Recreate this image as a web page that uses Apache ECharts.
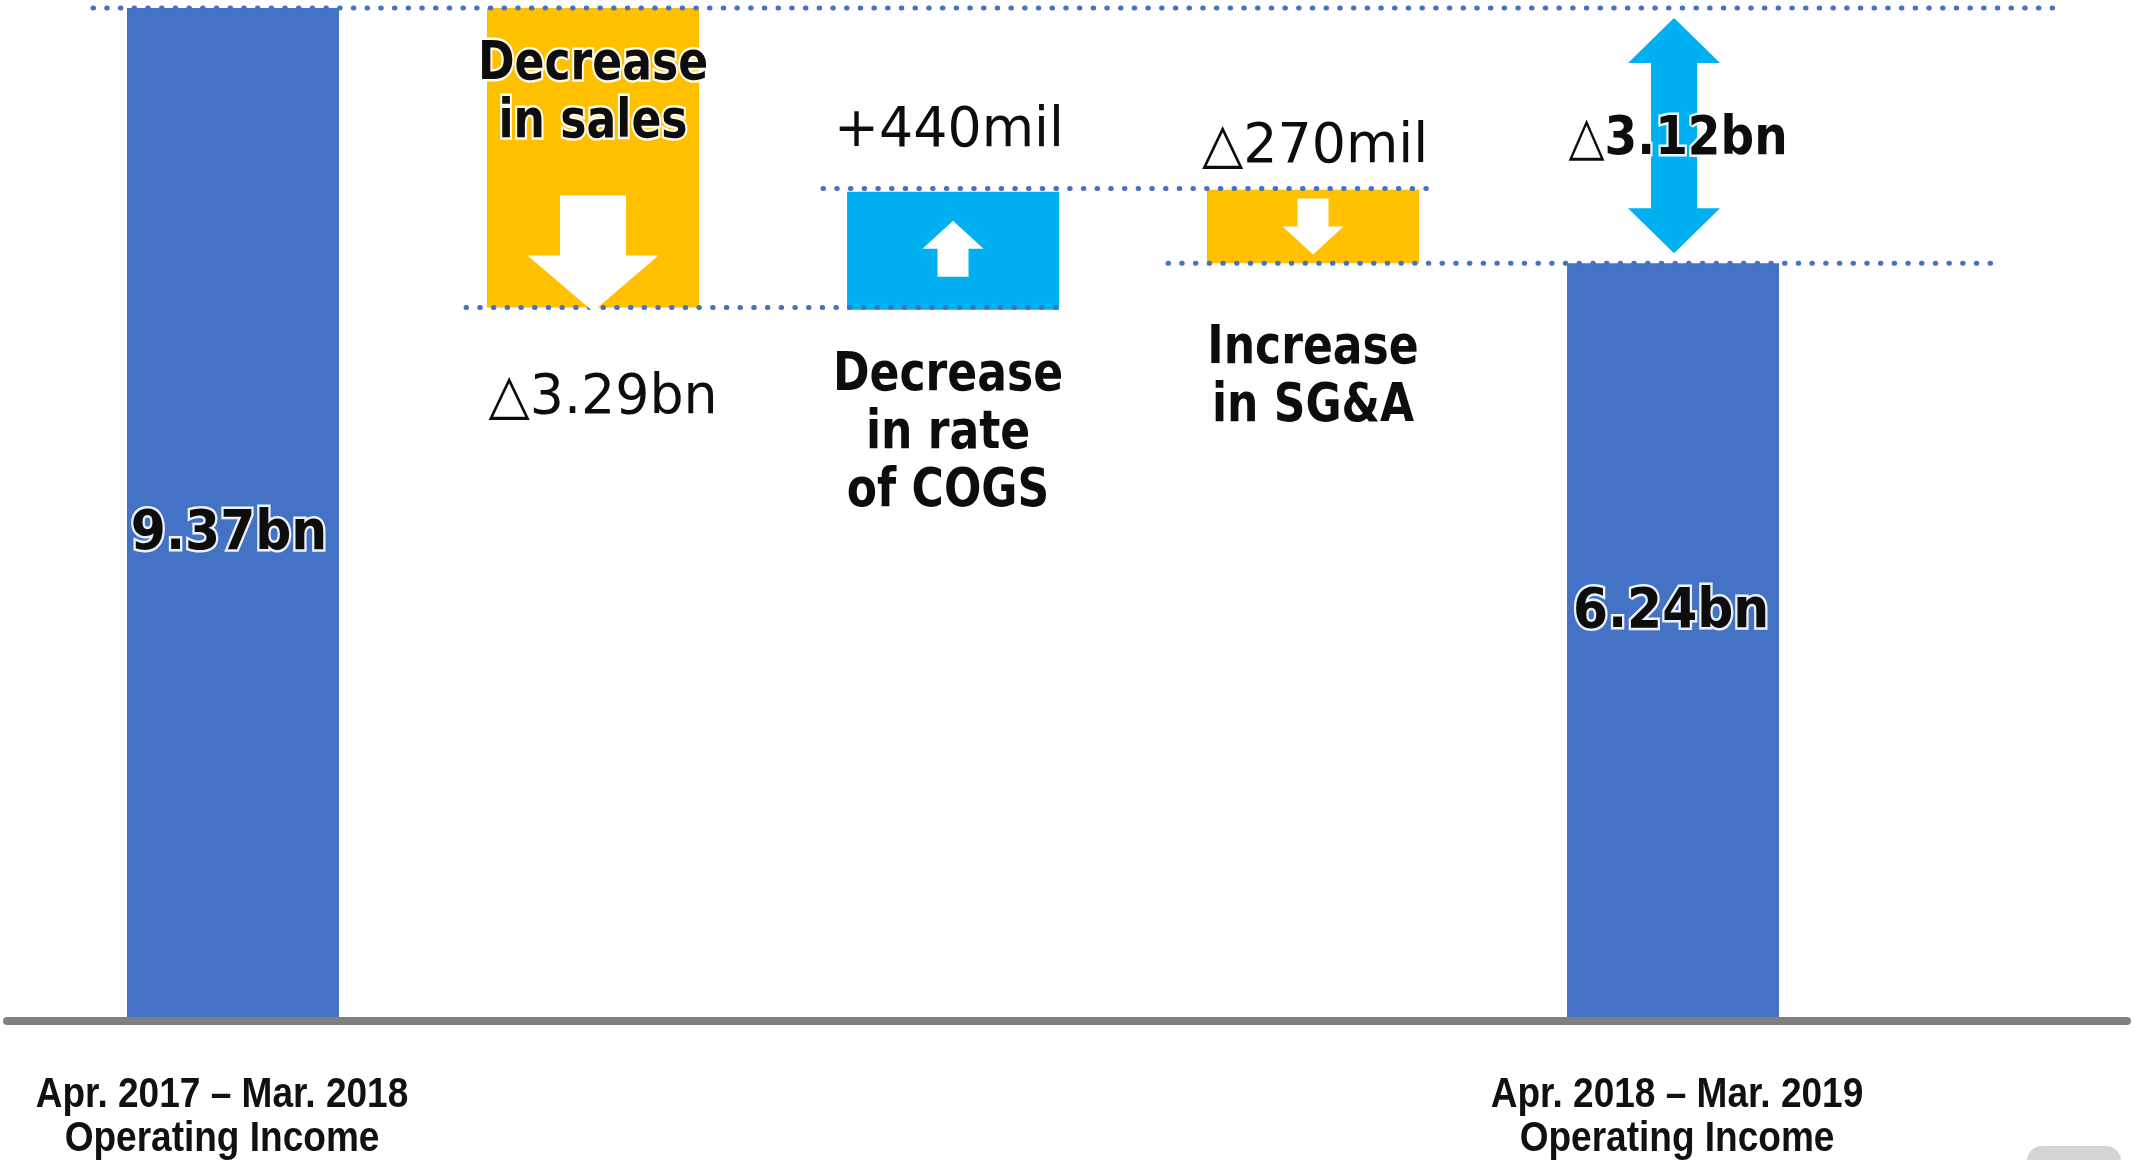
<!DOCTYPE html>
<html>
<head>
<meta charset="utf-8">
<script src="https://cdn.jsdelivr.net/npm/echarts@6/dist/echarts.min.js"></script>
<style>
html,body{margin:0;padding:0;background:#ffffff;}
#c{width:2134px;height:1160px;}
</style>
</head>
<body>
<div id="c"></div>
<script>
// ---------------- data ----------------
const categories = [
  'Apr. 2017 – Mar. 2018\nOperating Income',
  'Decrease in sales',
  'Decrease in rate of COGS',
  'Increase in SG&A',
  'Apr. 2018 – Mar. 2019\nOperating Income'
];
// bar extents as drawn in the diagram (axis units; the slide is not drawn to scale)
const barBase = [0, 6.60, 6.58, 7.01, 0];
const barTop  = [9.37, 9.37, 7.67, 7.69, 7.01];
const barKind = ['total', 'down', 'up', 'down', 'total'];
const valueLabels = ['9.37bn', '△3.29bn', '+440mil', '△270mil', '6.24bn'];
const itemLabels  = ['', 'Decrease\nin sales', 'Decrease\nin rate\nof COGS', 'Increase\nin SG&A', ''];
// dotted connector lines: from bar, to bar, level
const connFrom  = [0, 1, 2, 3];
const connTo    = [4, 2, 3, 4];
const connLevel = [9.37, 6.60, 7.70, 7.01];
// overall change arrow at the last bar
const diffBar = 4, diffFromLevel = 9.37, diffToLevel = 7.01;
const diffLabel = '△3.12bn';

// ---------------- styles ----------------
const COLORS = { total: '#4472C4', down: '#FFC000', up: '#00B0F0' };
const DOT = '#4472C4';
const BAR_RATIO = 212 / 360;
const FONT = '"DejaVu Sans", Verdana, sans-serif';
const AXIS_FONT = '"Liberation Sans", Arial, sans-serif';
const CONN_EXT = [[34, 278], [21, 5], [24, 13], [39, 214]];
const TEXT_DY = 4;
const VALUE_POS = [
  { anchor: 'mid', dx: -4, dy: 16, bold: true, glow: true },
  { anchor: 'bottom', dx: 10, dy: 87 },
  { anchor: 'top', dx: -4, dy: -64 },
  { anchor: 'top', dx: 2, dy: -46 },
  { anchor: 'mid', dx: -2, dy: -34, bold: true, glow: true }
];
const ITEM_POS = [
  null,
  { anchor: 'top', dx: 0, dy: 82, glow: true },
  { anchor: 'bottom', dx: -5, dy: 120 },
  { anchor: 'bottom', dx: 0, dy: 111 },
  null
];
const ARROW_POS = [
  null,
  { big: true, anchor: 'bottom', dy: 4 },
  { big: false, anchor: 'mid', dy: -2 },
  { big: false, anchor: 'mid', dy: 0 },
  null
];
const CAT_LABEL_POS = [{ dx: -11, dy: 96 }, null, null, null, { dx: 4, dy: 96 }];

function arrowPoints(cx, tipY, dir, big) {
  const s = big ? { sh: 33, hh: 65.5, hl: 56, tot: 116 } : { sh: 15.5, hh: 30.5, hl: 28, tot: 56 };
  const hb = tipY - dir * s.hl;
  const st = tipY - dir * s.tot;
  return [[cx - s.sh, st], [cx + s.sh, st], [cx + s.sh, hb], [cx + s.hh, hb], [cx, tipY], [cx - s.hh, hb], [cx - s.sh, hb]];
}

function textEl(x, y, text, o) {
  const st = {
    text: text,
    fill: o.color || '#0d0d0d',
    fontFamily: o.font || FONT,
    fontWeight: o.bold ? 'bold' : 'normal',
    fontSize: o.size,
    lineHeight: o.lh || o.size,
    align: 'center',
    verticalAlign: 'middle'
  };
  if (o.glow) { st.stroke = 'rgba(255,255,255,0.9)'; st.lineWidth = 5; }
  if (o.rich) st.rich = o.rich;
  return { type: 'text', x: x, y: y, scaleX: o.sx || 1, style: st, z2: 10 };
}

function anchorY(a, yTop, yBot) {
  if (a === 'top') return yTop;
  if (a === 'bottom') return yBot;
  return (yTop + yBot) / 2;
}

const barData = categories.map((c, i) => [i, barBase[i], barTop[i]]);
const connData = connFrom.map((f, k) => [f, connTo[k], connLevel[k]]);
const diffData = [[diffBar, diffFromLevel, diffToLevel]];

const chart = echarts.init(document.getElementById('c'), null, { renderer: 'canvas' });

const option = {
  animation: false,
  backgroundColor: '#ffffff',
  grid: { left: 7, right: 7, top: 8, bottom: 139, outerBoundsMode: 'none' },
  xAxis: {
    type: 'value',
    min: -0.6278,
    max: 5.261,
    z: 5,
    splitLine: { show: false },
    axisTick: { show: false },
    axisLabel: { show: false },
    axisLine: { show: true, lineStyle: { color: '#808080', width: 8 } }
  },
  yAxis: { type: 'value', min: 0, max: 9.37, show: false },
  series: [
    {
      type: 'custom', name: 'bars', z: 2, clip: false,
      encode: { x: 0, y: [1, 2] },
      data: barData,
      renderItem: function (params, api) {
        const i = api.value(0);
        const pb = api.coord([i, api.value(1)]);
        const pt = api.coord([i, api.value(2)]);
        const w = api.size([1, 0])[0] * BAR_RATIO;
        return {
          type: 'rect',
          shape: { x: pb[0] - w / 2, y: pt[1], width: w, height: pb[1] - pt[1] },
          style: { fill: COLORS[barKind[params.dataIndex]] }
        };
      }
    },
    {
      type: 'custom', name: 'connectors', z: 3, clip: false,
      encode: { x: [0, 1], y: 2 },
      data: connData,
      renderItem: function (params, api) {
        const k = params.dataIndex;
        const a = api.coord([api.value(0), api.value(2)]);
        const b = api.coord([api.value(1), api.value(2)]);
        const hw = api.size([1, 0])[0] * BAR_RATIO / 2;
        const ext = CONN_EXT[k];
        return {
          type: 'line',
          shape: { x1: a[0] - hw - ext[0], y1: a[1], x2: b[0] + hw + ext[1], y2: b[1] },
          style: { stroke: DOT, lineWidth: 5, lineDash: [0.5, 13.2], lineCap: 'round', fill: null }
        };
      }
    },
    {
      type: 'custom', name: 'annotations', z: 4, clip: false,
      encode: { x: 0, y: [1, 2] },
      data: barData,
      renderItem: function (params, api) {
        const k = params.dataIndex;
        const i = api.value(0);
        const pb = api.coord([i, api.value(1)]);
        const pt = api.coord([i, api.value(2)]);
        const cx = pb[0];
        const children = [];
        const ap = ARROW_POS[k];
        if (ap) {
          const dir = barKind[k] === 'down' ? 1 : -1;
          let tip;
          if (ap.anchor === 'bottom') {
            tip = pb[1] + ap.dy;
          } else {
            const mid = (pb[1] + pt[1]) / 2 + ap.dy;
            tip = mid + dir * 28;
          }
          children.push({ type: 'polygon', shape: { points: arrowPoints(cx, tip, dir, ap.big) }, style: { fill: '#ffffff' }, z2: 5 });
        }
        const vp = VALUE_POS[k];
        if (vp) {
          const y = anchorY(vp.anchor, pt[1], pb[1]) + vp.dy + TEXT_DY;
          children.push(textEl(cx + vp.dx, y, valueLabels[k], vp.bold
            ? { bold: true, size: 56, sx: 0.9, glow: vp.glow }
            : { bold: false, size: 56, sx: 0.96 }));
        }
        const ip = ITEM_POS[k];
        if (ip) {
          const y = anchorY(ip.anchor, pt[1], pb[1]) + ip.dy + TEXT_DY;
          children.push(textEl(cx + ip.dx, y, itemLabels[k], { bold: true, size: 54, lh: 58, sx: 0.816, glow: ip.glow }));
        }
        const cp = CAT_LABEL_POS[k];
        if (cp) {
          const y0 = api.coord([i, 0])[1];
          children.push(textEl(cx + cp.dx, y0 + cp.dy, categories[k], { bold: true, size: 43, lh: 44, sx: 0.861, font: AXIS_FONT, color: '#111111' }));
        }
        return { type: 'group', children: children };
      }
    },
    {
      type: 'custom', name: 'difference', z: 4, clip: false,
      encode: { x: 0, y: [1, 2] },
      data: diffData,
      renderItem: function (params, api) {
        const i = api.value(0);
        const p1 = api.coord([i, api.value(1)]);
        const p2 = api.coord([i, api.value(2)]);
        const cx = p1[0] + 1;
        const top = p1[1] + 10, bot = p2[1] - 10;
        const sh = 23, hh = 46, hl = 45;
        const pts = [[cx, top], [cx + hh, top + hl], [cx + sh, top + hl], [cx + sh, bot - hl], [cx + hh, bot - hl], [cx, bot],
                     [cx - hh, bot - hl], [cx - sh, bot - hl], [cx - sh, top + hl], [cx - hh, top + hl]];
        const midY = (top + bot) / 2 + TEXT_DY;
        return {
          type: 'group',
          children: [
            { type: 'polygon', shape: { points: pts }, style: { fill: '#00B0F0' } },
            textEl(cx + 4, midY, '{a|△}{b|' + diffLabel.slice(1) + '}', {
              bold: true, size: 54, sx: 0.87, glow: true,
              rich: {
                a: { fontFamily: FONT, fontWeight: 'normal', fontSize: 54, fill: '#0d0d0d' },
                b: { fontFamily: FONT, fontWeight: 'bold', fontSize: 54, fill: '#0d0d0d' }
              }
            })
          ]
        };
      }
    }
  ],
  graphic: [
    { type: 'rect', right: 13, bottom: -16, shape: { width: 94, height: 30, r: 15 }, style: { fill: '#d4d4d4' }, silent: true }
  ]
};

chart.setOption(option);
</script>
</body>
</html>
